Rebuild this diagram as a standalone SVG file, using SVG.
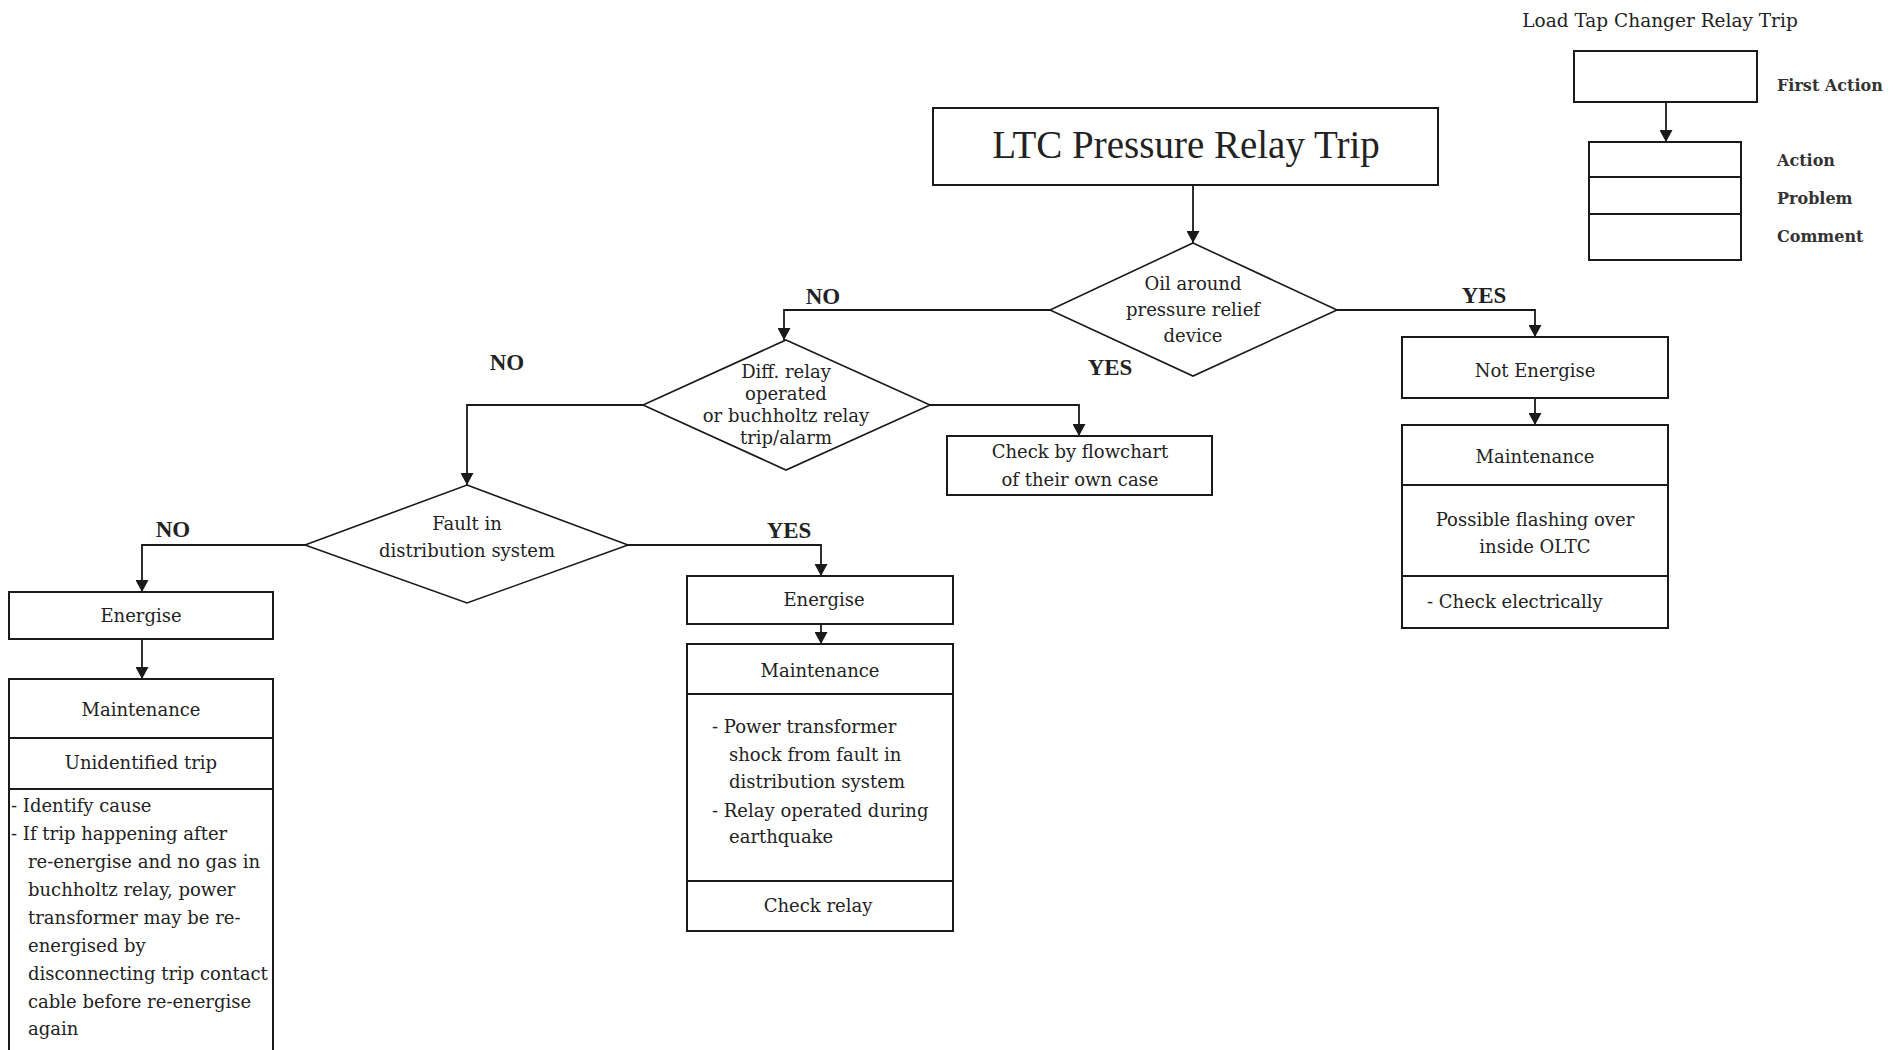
<svg xmlns="http://www.w3.org/2000/svg" width="1901" height="1050" viewBox="0 0 1901 1050">
  <defs>
    <marker id="arrow" viewBox="0 0 12 13" refX="12" refY="6.5" markerWidth="12" markerHeight="13" orient="auto" markerUnits="userSpaceOnUse">
      <path d="M0,0 L12,6.5 L0,13 z" fill="#1a1a1a"/>
    </marker>
    <style>
      .box { fill: #ffffff; stroke: #1a1a1a; stroke-width: 2; }
      .div { stroke: #1a1a1a; stroke-width: 2; fill: none; }
      .dia { fill: #ffffff; stroke: #1a1a1a; stroke-width: 1.6; }
      .wire { fill: none; stroke: #1a1a1a; stroke-width: 1.8; marker-end: url(#arrow); }
      .line { fill: none; stroke: #1a1a1a; stroke-width: 2; }
      .t { font-family: "DejaVu Serif", "Liberation Serif", serif; font-size: 18px; fill: #222; }
      .c { text-anchor: middle; }
      .lbl { font-family: "Liberation Serif", serif; font-size: 23px; font-weight: bold; fill: #222; text-anchor: middle; }
      .leg { font-family: "DejaVu Serif", "Liberation Serif", serif; font-size: 16px; font-weight: bold; fill: #333; }
      .head { font-family: "Liberation Serif", serif; font-size: 39px; fill: #222; text-anchor: middle; }
    </style>
  </defs>
  <rect width="1901" height="1050" fill="#ffffff"/>

  <!-- legend -->
  <g id="legend">
    <text class="t c" x="1660" y="27" style="font-size:18.5px">Load Tap Changer Relay Trip</text>
    <rect class="box" x="1574" y="51" width="183" height="51"/>
    <line class="wire" x1="1666" y1="102" x2="1666" y2="142"/>
    <rect class="box" x="1589" y="142" width="152" height="118"/>
    <line class="div" x1="1589" y1="177" x2="1741" y2="177"/>
    <line class="div" x1="1589" y1="214" x2="1741" y2="214"/>
    <text class="leg" x="1777" y="91">First Action</text>
    <text class="leg" x="1777" y="166">Action</text>
    <text class="leg" x="1777" y="204">Problem</text>
    <text class="leg" x="1777" y="242">Comment</text>
  </g>

  <!-- connectors -->
  <g id="connectors">
    <line class="wire" x1="1193" y1="185" x2="1193" y2="243"/>
    <polyline class="wire" points="1050,310 784,310 784,340"/>
    <polyline class="wire" points="1337,310 1535,310 1535,337"/>
    <line class="wire" x1="1535" y1="398" x2="1535" y2="425"/>
    <polyline class="wire" points="930,405 1079,405 1079,436"/>
    <polyline class="wire" points="643,405 467,405 467,485"/>
    <polyline class="wire" points="305,545 142,545 142,592"/>
    <line class="wire" x1="142" y1="639" x2="142" y2="679"/>
    <polyline class="wire" points="628,545 821,545 821,576"/>
    <line class="wire" x1="821" y1="624" x2="821" y2="644"/>
    <text class="lbl" x="823" y="304">NO</text>
    <text class="lbl" x="1484" y="303">YES</text>
    <text class="lbl" x="1110" y="375">YES</text>
    <text class="lbl" x="507" y="370">NO</text>
    <text class="lbl" x="173" y="537">NO</text>
    <text class="lbl" x="789" y="538">YES</text>
  </g>

  <g id="start">
    <rect class="box" x="933" y="108" width="505" height="77"/>
    <text class="head" x="1186" y="158">LTC Pressure Relay Trip</text>
  </g>

  <g id="oil-decision">
    <polygon class="dia" points="1193,243 1337,310 1193,376 1050,310"/>
    <text class="t c" x="1193" y="290">Oil around</text>
    <text class="t c" x="1193" y="316">pressure relief</text>
    <text class="t c" x="1193" y="342">device</text>
  </g>

  <g id="diff-decision">
    <polygon class="dia" points="786,340 930,405 786,470 643,405"/>
    <text class="t c" x="786" y="378">Diff. relay</text>
    <text class="t c" x="786" y="400">operated</text>
    <text class="t c" x="786" y="422">or buchholtz relay</text>
    <text class="t c" x="786" y="444">trip/alarm</text>
  </g>

  <g id="check-flowchart">
    <rect class="box" x="947" y="436" width="265" height="59"/>
    <text class="t c" x="1080" y="458">Check by flowchart</text>
    <text class="t c" x="1080" y="486">of their own case</text>
  </g>

  <g id="fault-decision">
    <polygon class="dia" points="467,485 628,545 467,603 305,545"/>
    <text class="t c" x="467" y="530">Fault in</text>
    <text class="t c" x="467" y="557">distribution system</text>
  </g>

  <g id="not-energise">
    <rect class="box" x="1402" y="337" width="266" height="61"/>
    <text class="t c" x="1535" y="377">Not Energise</text>
  </g>

  <g id="maintenance-oltc">
    <rect class="box" x="1402" y="425" width="266" height="203"/>
    <line class="div" x1="1402" y1="485" x2="1668" y2="485"/>
    <line class="div" x1="1402" y1="576" x2="1668" y2="576"/>
    <text class="t c" x="1535" y="463">Maintenance</text>
    <text class="t c" x="1535" y="526">Possible flashing over</text>
    <text class="t c" x="1535" y="553">inside OLTC</text>
    <text class="t" x="1427" y="608">- Check electrically</text>
  </g>

  <g id="energise-left">
    <rect class="box" x="9" y="592" width="264" height="47"/>
    <text class="t c" x="141" y="622">Energise</text>
  </g>

  <g id="maintenance-left">
    <path class="line" d="M9,1062 V679 H273 V1062"/>
    <line class="div" x1="9" y1="738" x2="273" y2="738"/>
    <line class="div" x1="9" y1="789" x2="273" y2="789"/>
    <text class="t c" x="141" y="716">Maintenance</text>
    <text class="t c" x="141" y="769">Unidentified trip</text>
    <text class="t" x="11" y="812">- Identify cause</text>
    <text class="t" x="11" y="840">- If trip happening after</text>
    <text class="t" x="28" y="868">re-energise and no gas in</text>
    <text class="t" x="28" y="896">buchholtz relay, power</text>
    <text class="t" x="28" y="924">transformer may be re-</text>
    <text class="t" x="28" y="952">energised by</text>
    <text class="t" x="28" y="980">disconnecting trip contact</text>
    <text class="t" x="28" y="1008">cable before re-energise</text>
    <text class="t" x="28" y="1035">again</text>
  </g>

  <g id="energise-mid">
    <rect class="box" x="687" y="576" width="266" height="48"/>
    <text class="t c" x="824" y="606">Energise</text>
  </g>

  <g id="maintenance-mid">
    <rect class="box" x="687" y="644" width="266" height="287"/>
    <line class="div" x1="687" y1="694" x2="953" y2="694"/>
    <line class="div" x1="687" y1="881" x2="953" y2="881"/>
    <text class="t c" x="820" y="677">Maintenance</text>
    <text class="t" x="712" y="733">- Power transformer</text>
    <text class="t" x="729" y="761">shock from fault in</text>
    <text class="t" x="729" y="788">distribution system</text>
    <text class="t" x="712" y="817">- Relay operated during</text>
    <text class="t" x="729" y="843">earthquake</text>
    <text class="t c" x="818" y="912">Check relay</text>
  </g>
</svg>
